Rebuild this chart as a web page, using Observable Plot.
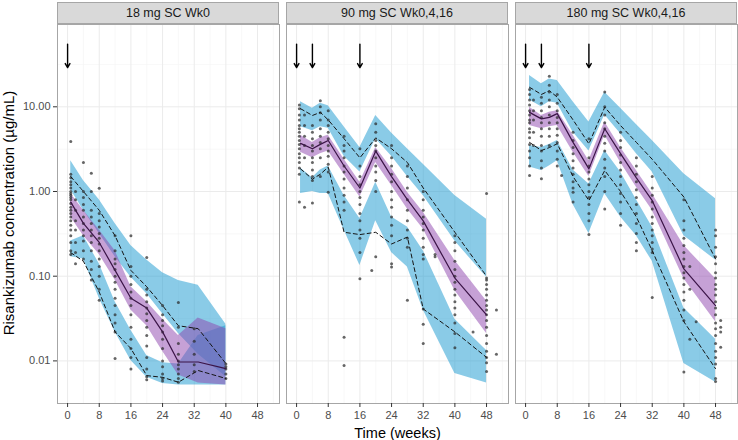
<!DOCTYPE html>
<html><head><meta charset="utf-8">
<script src="https://cdn.jsdelivr.net/npm/d3@7"></script>
<script src="https://cdn.jsdelivr.net/npm/@observablehq/plot@0.6"></script>
<style>
body{margin:0;background:#fff;font-family:"Liberation Sans",Arial,sans-serif;}
#outer{position:relative;width:738px;height:440px;}
#wrap{display:flex;gap:7px;width:738px;height:440px;align-items:flex-start;}
.col{display:flex;flex-direction:column;}
.strip{box-sizing:border-box;width:222px;height:22px;margin-top:2px;background:#d9d9d9;border:1px solid #a6a6a6;font-size:12.5px;color:#1a1a1a;text-align:center;line-height:20px;}
svg{display:block;overflow:visible;}
#ytitle{position:absolute;left:-141px;top:204px;width:300px;height:18px;line-height:18px;text-align:center;font-size:15px;color:#000;transform:rotate(-90deg);white-space:nowrap;}
</style></head><body><div id="outer"><div id="wrap"></div><div id="ytitle"></div></div>
<script>
// ---- shared axis values ----
const xTicks = [0, 8, 16, 24, 32, 40, 48];
const xMinor = [4, 12, 20, 28, 36, 44, 52];
const yTicks = [0.01, 0.1, 1, 10];
const yMinor = [0.0316, 0.316, 3.16, 31.6];
const xDomain = [-2.55, 53.55];
const yDomain = [0.00314, 93.7];
const stripLabels = ["18 mg SC Wk0", "90 mg SC Wk0,4,16", "180 mg SC Wk0,4,16"];
const xTitle = "Time (weeks)";
const yTitle = "Risankizumab concentration (µg/mL)";
const arrowTop = 55, arrowTip = 29;

// ---- panel 1 : 18 mg ----
const t1 = [0.8, 4, 8, 12, 16, 20, 24, 28, 33, 40];
const up1Lo = [1.05, 0.6, 0.32, 0.17, 0.097, 0.062, 0.036, 0.021, 0.012, 0.0065];
const up1Hi = [2.3, 1.35, 0.8, 0.42, 0.23, 0.155, 0.11, 0.089, 0.078, 0.027];
const med1Lo = [0.5, 0.3, 0.18, 0.09, 0.04, 0.026, 0.013, 0.0068, 0.0055, 0.0052];
const med1Hi = [0.95, 0.6, 0.35, 0.2, 0.075, 0.05, 0.031, 0.02, 0.032, 0.024];
const lo1Lo = [0.17, 0.16, 0.055, 0.022, 0.0101, 0.0064, 0.0054, 0.0052, 0.0052, 0.0052];
const lo1Hi = [0.26, 0.3, 0.14, 0.05, 0.023, 0.0116, 0.0095, 0.0092, 0.02, 0.026];
const obs1p95 = [1.5, 1.0, 0.6, 0.3, 0.117, 0.075, 0.045, 0.026, 0.024, 0.0093];
const obs1p50 = [0.75, 0.42, 0.25, 0.117, 0.055, 0.042, 0.022, 0.0097, 0.0097, 0.0081];
const obs1p05 = [0.19, 0.15, 0.065, 0.022, 0.014, 0.0067, 0.0064, 0.0056, 0.0077, 0.0062];
const dose1 = [0];
const pts1 = [
  [0.8, [3.9, 1.6, 1.45, 1.3, 1.2, 1.1, 1.0, 0.95, 0.9, 0.85, 0.8, 0.72, 0.65, 0.6, 0.55, 0.5, 0.45, 0.4, 0.35, 0.3, 0.25, 0.2, 0.18]],
  [2, [1.0, 0.8, 0.6, 0.45, 0.35, 0.25, 0.19, 0.14]],
  [4, [2.2, 1.0, 0.85, 0.7, 0.6, 0.5, 0.42, 0.35, 0.3, 0.26, 0.2, 0.16]],
  [6, [1.64, 1.0, 0.6, 0.5, 0.42, 0.35, 0.3, 0.25, 0.2, 0.15, 0.12, 0.09]],
  [8, [1.09, 0.55, 0.45, 0.38, 0.32, 0.28, 0.24, 0.2, 0.16, 0.13, 0.1, 0.07, 0.052]],
  [12, [0.3, 0.2, 0.16, 0.14, 0.12, 0.1, 0.085, 0.07, 0.055, 0.045, 0.035, 0.028, 0.022, 0.0107]],
  [16, [0.3, 0.13, 0.1, 0.08, 0.065, 0.055, 0.045, 0.035, 0.025, 0.018, 0.014, 0.011, 0.008]],
  [20, [0.166, 0.07, 0.06, 0.05, 0.042, 0.036, 0.03, 0.025, 0.02, 0.015, 0.011, 0.008, 0.0065, 0.006]],
  [24, [0.045, 0.035, 0.03, 0.026, 0.022, 0.018, 0.014, 0.01, 0.0085, 0.007, 0.0062, 0.0058]],
  [28, [0.049, 0.025, 0.016, 0.012, 0.01, 0.009, 0.008, 0.007, 0.0062, 0.0056]],
  [32, [0.024, 0.017, 0.012, 0.009, 0.0075]],
  [40, [0.0092, 0.0085, 0.008, 0.007, 0.0062]]
];

// ---- panel 2 : 90 mg ----
const t2 = [1, 4, 6, 8, 12, 16, 20, 24, 28, 32, 40, 48];
const up2Lo = [5.8, 5.2, 5.8, 5.6, 2.6, 1.7, 4.2, 2.6, 1.5, 0.9, 0.26, 0.097];
const up2Hi = [11.5, 9.6, 11, 10.3, 5.8, 3.3, 7.9, 4.9, 3.2, 2.1, 0.9, 0.47];
const med2Lo = [2.9, 2.5, 2.8, 3.0, 1.6, 0.86, 2.2, 1.18, 0.62, 0.36, 0.068, 0.021];
const med2Hi = [4.6, 3.8, 4.3, 4.6, 2.4, 1.29, 3.3, 1.87, 0.98, 0.57, 0.153, 0.051];
const lo2Lo = [0.95, 1.0, 0.95, 0.95, 0.35, 0.134, 0.45, 0.19, 0.128, 0.04, 0.0071, 0.0055];
const lo2Hi = [1.9, 1.45, 1.8, 2.0, 0.9, 0.48, 1.29, 0.5, 0.38, 0.2, 0.031, 0.0133];
const obs2p95 = [9.5, 7.9, 8.6, 7.0, 4.2, 2.5, 4.3, 3.2, 2.2, 1.1, 0.33, 0.1];
const obs2p50 = [3.7, 3.2, 3.6, 4.0, 2.0, 1.1, 3.0, 1.5, 0.8, 0.45, 0.095, 0.035];
const obs2p05 = [1.85, 1.4, 1.6, 1.94, 0.33, 0.31, 0.33, 0.24, 0.29, 0.041, 0.022, 0.011];
const dose2 = [0, 4, 16];
const pts2 = [
  [0.7, [10.5, 9.5, 8, 7, 6, 5.5, 5, 4.5, 4, 3.6, 3.2, 2.8, 2.5, 2.2, 1.9, 1.6, 0.75]],
  [2, [8, 6, 4.5, 3.5, 2.5, 0.65]],
  [4, [6, 5, 4.2, 3.5, 3, 2.5, 2.2, 1.8, 1.5, 1.35, 0.73]],
  [6, [11.8, 10, 8.5, 7, 5.5, 4.5, 3.8, 3.2, 2.5, 1.5]],
  [8, [9, 7, 6, 5, 4.2, 3.5, 3, 2.6, 2.1, 1.7, 0.98]],
  [12, [4.5, 3.5, 3, 2.5, 2, 1.7, 1.4, 1.1, 0.9, 0.75, 0.6, 0.019, 0.0088]],
  [16, [3.2, 2.0, 1.5, 1.2, 1.0, 0.85, 0.7, 0.55, 0.45, 0.35, 0.28, 0.19, 0.093]],
  [19, [0.117]],
  [20, [6.3, 5, 4, 3.5, 3, 2.5, 2, 1.7, 1.35, 1.0, 0.17]],
  [24, [3.5, 2.5, 2, 1.6, 1.3, 1.0, 0.8, 0.65, 0.5, 0.4, 0.3, 0.128, 0.14]],
  [28, [2.0, 1.5, 1.1, 0.8, 0.6, 0.45, 0.35, 0.28, 0.22, 0.052]],
  [32, [1.0, 0.8, 0.6, 0.5, 0.42, 0.35, 0.28, 0.22, 0.18, 0.16, 0.041, 0.027, 0.016]],
  [35, [0.18, 0.17]],
  [40, [0.3, 0.25, 0.2, 0.15, 0.12, 0.1, 0.085, 0.07, 0.06, 0.05, 0.042, 0.035, 0.028, 0.021, 0.0143]],
  [44.6, [0.022]],
  [48, [0.95, 0.095, 0.09, 0.08, 0.07, 0.06, 0.052, 0.045, 0.04, 0.035, 0.03, 0.025, 0.02, 0.016, 0.013, 0.011, 0.0095, 0.0075]],
  [50.5, [0.04, 0.012]]
];

// ---- panel 3 : 180 mg ----
const t3 = [1, 4, 6, 8, 12, 16, 20, 24, 28, 32, 40, 48];
const up3Lo = [12, 10, 11.5, 11, 5.0, 3.0, 8.0, 4.8, 2.8, 1.7, 0.3, 0.155];
const up3Hi = [23.4, 18.7, 21.3, 20.5, 11.5, 6.6, 14.9, 9.6, 6.2, 4.0, 1.62, 0.82];
const med3Lo = [6.0, 5.5, 5.8, 6.0, 2.9, 1.5, 4.6, 2.2, 1.12, 0.6, 0.093, 0.029];
const med3Hi = [9.9, 7.9, 8.6, 9.0, 4.6, 2.3, 6.6, 3.3, 1.77, 0.94, 0.23, 0.093];
const lo3Lo = [1.94, 1.77, 2.0, 2.3, 0.7, 0.32, 0.94, 0.5, 0.3, 0.15, 0.0093, 0.0056];
const lo3Hi = [3.5, 3.3, 3.6, 4.0, 1.8, 1.23, 3.05, 1.7, 0.8, 0.38, 0.042, 0.018];
const obs3p95 = [17, 14, 15.5, 13, 7.0, 3.66, 9.9, 6.0, 3.8, 2.4, 0.86, 0.16];
const obs3p50 = [8.6, 7.2, 7.5, 8.3, 3.8, 1.85, 5.5, 2.8, 1.45, 0.78, 0.122, 0.045];
const obs3p05 = [3.8, 3.05, 3.3, 3.66, 1.5, 0.78, 1.77, 1.0, 0.5, 0.2, 0.029, 0.0081];
const dose3 = [0, 4, 16];
const pts3 = [
  [1, [16, 14, 12, 10.5, 9, 8, 7, 6.5, 5.5, 5, 4.3, 3.6, 3, 2.5, 2.0, 1.55]],
  [2, [12, 9, 7, 5, 3.5]],
  [4, [13, 11, 9, 7.5, 6.5, 5.5, 4.5, 3.5, 3, 2.3, 1.9, 1.41]],
  [6, [23, 18, 15, 12, 10, 8, 6.5, 5.5, 4.5, 3.5]],
  [8, [14, 11, 9, 7.5, 6.5, 5.5, 4.6, 3.8, 3, 2.4, 2.0]],
  [9.1, [1.55]],
  [12, [5, 4, 3.3, 2.8, 2.3, 1.9, 1.6, 1.3, 1.1, 0.98, 0.75]],
  [16, [4.2, 2.5, 2.0, 1.7, 1.4, 1.2, 1.0, 0.85, 0.7, 0.55, 0.45, 0.31]],
  [20, [15, 10, 8, 6.5, 5.5, 4.5, 3.7, 3, 2.4, 1.9, 1.5, 1.0, 0.62]],
  [24, [5, 4, 3.3, 2.7, 2.2, 1.8, 1.5, 1.2, 0.95, 0.75, 0.55, 0.4]],
  [28, [2.5, 2.0, 1.6, 1.3, 1.05, 0.85, 0.7, 0.55, 0.42, 0.32, 0.25, 0.2]],
  [32, [1.5, 1.1, 0.9, 0.75, 0.62, 0.5, 0.42, 0.35, 0.3, 0.25, 0.21, 0.19, 0.056]],
  [40, [0.8, 0.45, 0.35, 0.28, 0.23, 0.19, 0.16, 0.13, 0.11, 0.095, 0.08, 0.065, 0.052, 0.04, 0.03, 0.0074]],
  [41.5, [0.13, 0.07, 0.018]],
  [43.1, [0.029]],
  [48, [0.35, 0.3, 0.22, 0.17, 0.14, 0.11, 0.095, 0.08, 0.07, 0.06, 0.05, 0.042, 0.035, 0.028, 0.024, 0.02, 0.016, 0.013, 0.011, 0.0092, 0.0062, 0.0057]],
  [49.3, [0.03, 0.022, 0.0145, 0.025]]
];

const BLUE = "#1f9bd1", PURPLE = "#8e44ad";
const FONT = '"Liberation Sans", Arial, sans-serif';

const panels = [
  {t: t1, uLo: up1Lo, uHi: up1Hi, mLo: med1Lo, mHi: med1Hi, lLo: lo1Lo, lHi: lo1Hi, o95: obs1p95, o50: obs1p50, o5: obs1p05, dose: dose1, pts: pts1},
  {t: t2, uLo: up2Lo, uHi: up2Hi, mLo: med2Lo, mHi: med2Hi, lLo: lo2Lo, lHi: lo2Hi, o95: obs2p95, o50: obs2p50, o5: obs2p05, dose: dose2, pts: pts2},
  {t: t3, uLo: up3Lo, uHi: up3Hi, mLo: med3Lo, mHi: med3Hi, lLo: lo3Lo, lHi: lo3Hi, o95: obs3p95, o50: obs3p50, o5: obs3p05, dose: dose3, pts: pts3}
];

function makePanel(p, idx) {
  const first = idx === 0;
  const left = first ? 57 : 0;
  const rows = p.t.map((t, i) => ({t, uLo: p.uLo[i], uHi: p.uHi[i], mLo: p.mLo[i], mHi: p.mHi[i],
    lLo: p.lLo[i], lHi: p.lHi[i], o95: p.o95[i], o50: p.o50[i], o5: p.o5[i]}));
  const dots = p.pts.flatMap(([t, vs]) => vs.map(v => ({t, v})));
  const marks = [
    Plot.ruleX(xMinor, {stroke: "#f4f4f4", strokeWidth: 0.6}),
    Plot.ruleY(yMinor, {stroke: "#f4f4f4", strokeWidth: 0.6}),
    Plot.ruleX(xTicks, {stroke: "#ebebeb", strokeWidth: 1}),
    Plot.ruleY(yTicks, {stroke: "#ebebeb", strokeWidth: 1}),
    Plot.areaY(rows, {x: "t", y1: "uLo", y2: "uHi", fill: BLUE, fillOpacity: 0.52}),
    Plot.areaY(rows, {x: "t", y1: "lLo", y2: "lHi", fill: BLUE, fillOpacity: 0.52}),
    Plot.areaY(rows, {x: "t", y1: "mLo", y2: "mHi", fill: PURPLE, fillOpacity: 0.5}),
    Plot.dot(dots, {x: "t", y: "v", r: 1.5, fill: "#2b2b2b", fillOpacity: 0.72}),
    Plot.line(rows, {x: "t", y: "o95", stroke: "#151515", strokeWidth: 1, strokeDasharray: "4,3"}),
    Plot.line(rows, {x: "t", y: "o5", stroke: "#151515", strokeWidth: 1, strokeDasharray: "4,3"}),
    Plot.line(rows, {x: "t", y: "o50", stroke: "#3b1447", strokeWidth: 1.2}),
    Plot.arrow(p.dose, {x: d => d, y1: () => arrowTop, y2: () => arrowTip, stroke: "#000", strokeWidth: 1.4, headLength: 5}),
    Plot.frame({stroke: "#a6a6a6"}),
    Plot.axisX(xTicks, {tickSize: 4, tickPadding: 4, fontSize: 11, stroke: "#333", fill: "#4d4d4d", label: null})
  ];
  if (first) {
    marks.push(Plot.axisY(yTicks, {tickSize: 4, tickPadding: 3, fontSize: 11, stroke: "#333", fill: "#4d4d4d",
      tickFormat: d3.format(".2f"), label: null}));
  }
  if (idx === 1) {
    marks.push(Plot.text([xTitle], {frameAnchor: "bottom", dy: 34, fontSize: 14.5, fill: "#000"}));
  }
  return Plot.plot({
    width: left + 222, height: 413,
    marginLeft: left, marginRight: 0, marginTop: 0, marginBottom: 34,
    style: {fontFamily: FONT, fontSize: "11px", background: "transparent", overflow: "visible"},
    x: {domain: xDomain},
    y: {type: "log", domain: yDomain, axis: first ? undefined : null},
    marks
  });
}

const wrap = document.getElementById("wrap");
panels.forEach((p, i) => {
  const col = document.createElement("div");
  col.className = "col";
  const strip = document.createElement("div");
  strip.className = "strip";
  strip.textContent = stripLabels[i];
  if (i === 0) strip.style.marginLeft = "57px";
  col.appendChild(strip);
  col.appendChild(makePanel(p, i));
  wrap.appendChild(col);
});
document.getElementById("ytitle").textContent = yTitle;
</script></body></html>
